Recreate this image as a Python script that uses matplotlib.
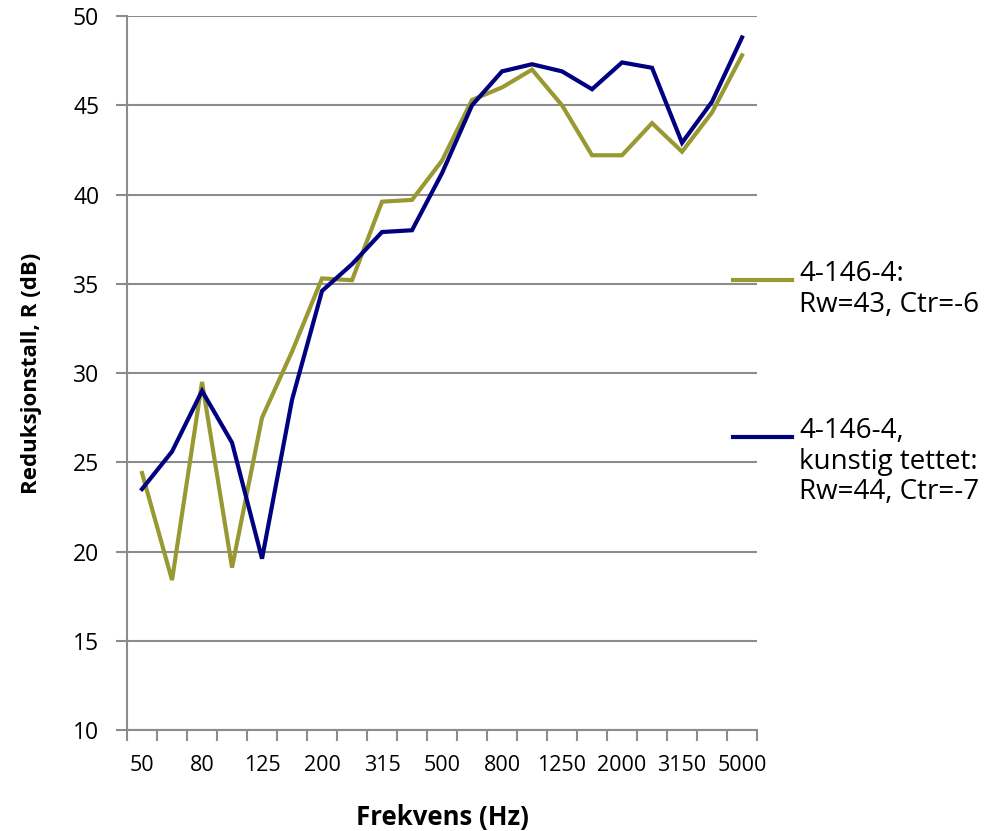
import matplotlib.pyplot as plt
from matplotlib.lines import Line2D
from matplotlib.ticker import MultipleLocator, FixedLocator

plt.rcParams['font.family'] = ['Open Sans', 'DejaVu Sans']

freqs = ["50", "63", "80", "100", "125", "160", "200", "250", "315", "400",
         "500", "630", "800", "1000", "1250", "1600", "2000", "2500", "3150",
         "4000", "5000"]
r_plain = [24.4, 18.4, 29.5, 19.1, 27.5, 31.2, 35.3, 35.2, 39.6, 39.7,
           41.9, 45.3, 46.0, 47.0, 45.0, 42.2, 42.2, 44.0, 42.4, 44.6, 47.8]
r_sealed = [23.5, 25.6, 29.0, 26.1, 19.6, 28.5, 34.6, 36.1, 37.9, 38.0,
            41.2, 45.0, 46.9, 47.3, 46.9, 45.9, 47.4, 47.1, 42.9, 45.2, 48.8]
labels = ["4-146-4:\nRw=43, Ctr=-6", "4-146-4,\nkunstig tettet:\nRw=44, Ctr=-7"]
colors = ["#999933", "#000080"]


def main():
    fig = plt.figure(figsize=(9.87, 8.31), dpi=100)
    ax = fig.add_axes([0.1287, 0.1215, 0.6383, 0.8592])

    x = list(range(len(freqs)))
    ax.plot(x, r_plain, color=colors[0], lw=3, solid_joinstyle='miter')
    ax.plot(x, r_sealed, color=colors[1], lw=3, solid_joinstyle='miter')

    ax.set_xlim(-0.5, len(freqs) - 0.5)
    ax.set_ylim(10, 50)
    ax.yaxis.set_major_locator(MultipleLocator(5))
    ax.grid(axis='y', color='#8c8c8c', lw=1.5)
    ax.set_axisbelow(True)

    ax.xaxis.set_major_locator(FixedLocator(x[::2]))
    ax.set_xticklabels(freqs[::2])
    ax.xaxis.set_minor_locator(FixedLocator([i - 0.5 for i in range(len(freqs) + 1)]))
    ax.tick_params(axis='x', which='major', length=0, pad=18, labelsize=15.5)
    ax.tick_params(axis='x', which='minor', length=8, width=1.5, color='#8c8c8c')
    ax.tick_params(axis='y', length=8, width=1.5, color='#8c8c8c', labelsize=16.5, pad=12)

    for s in ['top', 'right']:
        ax.spines[s].set_visible(False)
    for s in ['left', 'bottom']:
        ax.spines[s].set_color('#8c8c8c')
        ax.spines[s].set_linewidth(1.5)

    ax.set_ylabel("Reduksjonstall, R (dB)", fontsize=16, fontweight='bold', labelpad=22)
    ax.set_xlabel("Frekvens (Hz)", fontsize=18.5, fontweight='bold', labelpad=20)

    # legend drawn by hand so the line sits on the first text line
    for lab, col, ytop in zip(labels, colors, [0.663, 0.474]):
        fig.add_artist(Line2D([0.743, 0.802], [ytop, ytop], color=col, lw=3,
                              transform=fig.transFigure))
        fig.text(0.810, ytop + 0.024, lab, fontsize=20, va='top', ha='left',
                 linespacing=1.12)

    fig.savefig("out.png", dpi=100)


if __name__ == "__main__":
    main()
